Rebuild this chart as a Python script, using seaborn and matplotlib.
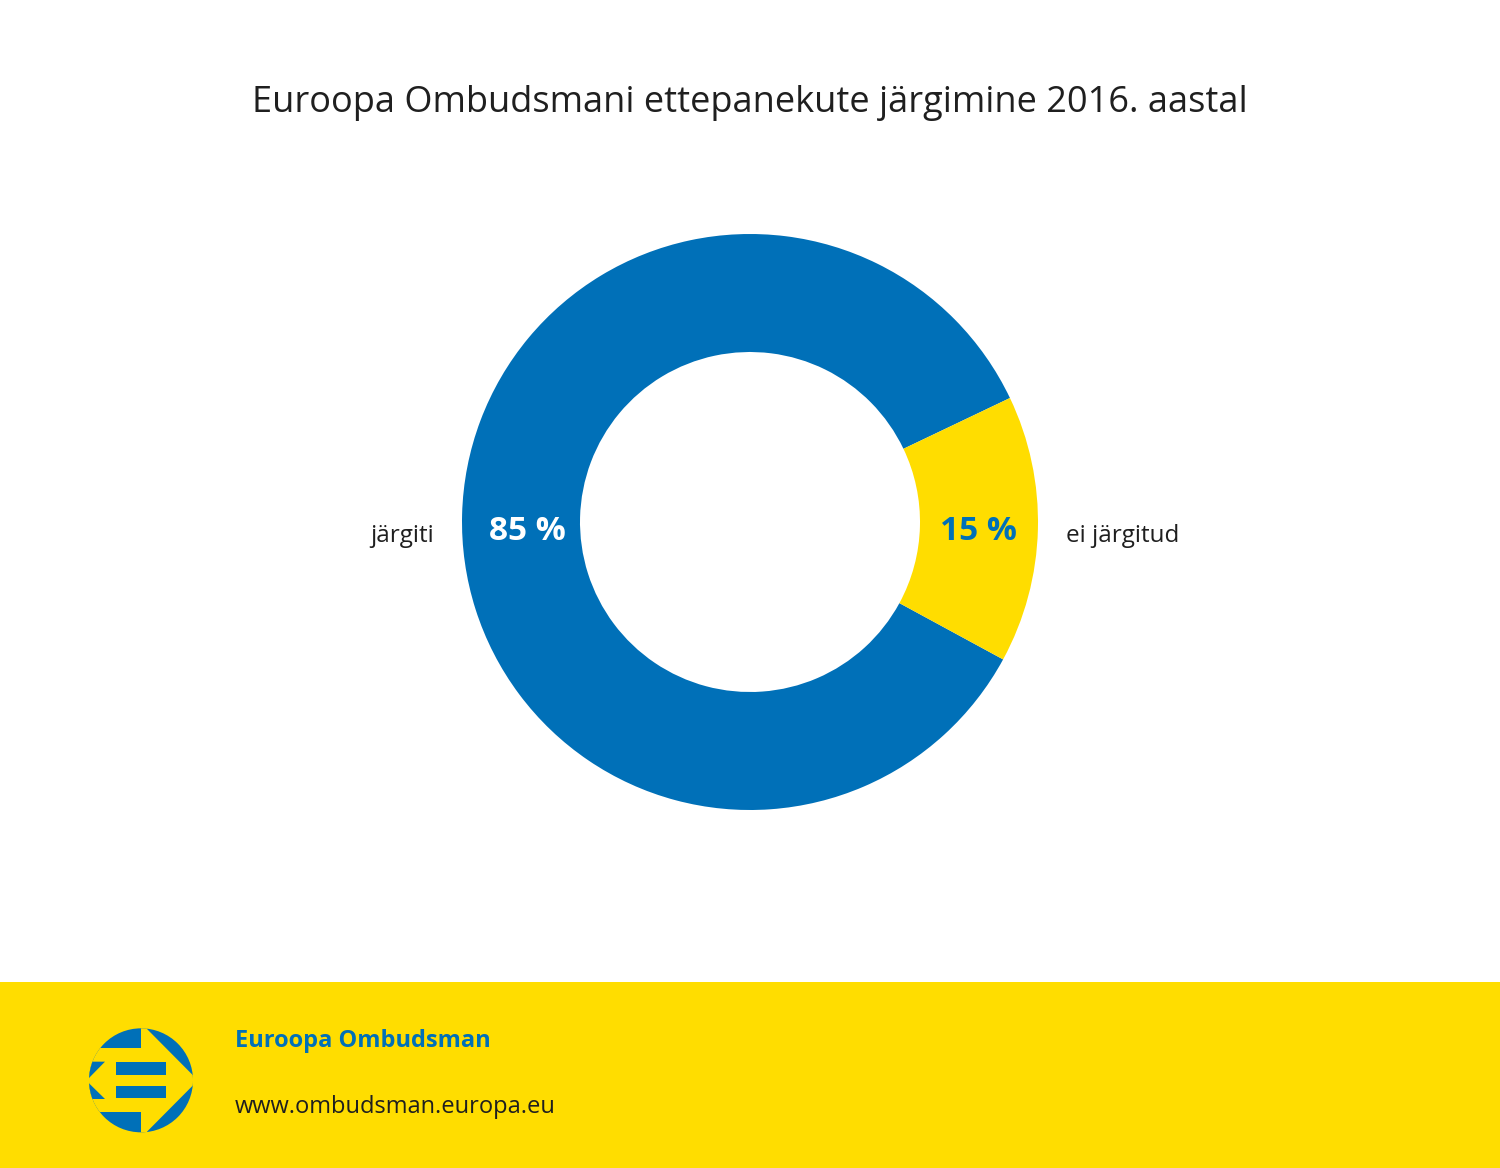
import numpy as np
import matplotlib
matplotlib.use("Agg")
import matplotlib.pyplot as plt
import seaborn as sns
from matplotlib.patches import Circle, Polygon, Rectangle

# data
categories = ["järgiti", "ei järgitud"]
shares = [85, 15]
pct_labels = ["85 %", "15 %"]
title = "Euroopa Ombudsmani ettepanekute järgimine 2016. aastal"
brand = "Euroopa Ombudsman"
url = "www.ombudsman.europa.eu"

BLUE = "#0070B8"
YELLOW = "#FFDD00"
DARK = "#1F1F1F"

sns.set_theme(style="white")
plt.rcParams["font.family"] = ["Open Sans", "DejaVu Sans"]

W, H = 1500, 1168
fig = plt.figure(figsize=(W / 100, H / 100), dpi=100)
fig.patch.set_facecolor("white")

# donut
cx, cy, r_out, r_in = 750, 522, 288, 170
box = 320
ax = fig.add_axes([(cx - box) / W, (H - cy - box) / H, 2 * box / W, 2 * box / H])
ax.set_aspect("equal")
ax.axis("off")

start = 25.5
wedges, _ = ax.pie(shares, colors=[BLUE, YELLOW], startangle=start, counterclock=True,
                   radius=r_out, wedgeprops=dict(width=r_out - r_in, linewidth=0))
ax.set_xlim(-box, box)
ax.set_ylim(-box, box)

mid_r = (r_out + r_in) / 2
pct_colors = ["white", BLUE]
for w, lab, cat, col in zip(wedges, pct_labels, categories, pct_colors):
    ang = np.deg2rad((w.theta1 + w.theta2) / 2)
    x = mid_r * np.cos(ang)
    ax.text(x + (6 if x < 0 else 0), -10, lab, ha="center", va="center",
            fontsize=24, fontweight="bold", color=col)
    lx = (r_out + 28) * np.cos(ang)
    ax.text(lx, -14, cat, ha="right" if lx < 0 else "left", va="center",
            fontsize=17.5, color=DARK)

fig.text(0.5, 1 - 103 / H, title, ha="center", va="center", fontsize=26,
         fontweight="medium", color=DARK)

# footer band with logo
fax = fig.add_axes([0, 0, 1, 1], zorder=-1)
fax.set_xlim(0, W)
fax.set_ylim(H, 0)
fax.axis("off")
fax.add_patch(Rectangle((0, 982), W, H - 982, color=YELLOW, lw=0))

fig.text(235 / W, 1 - 1041 / H, brand, ha="left", va="center", fontsize=17,
         fontweight="bold", color=BLUE)
fig.text(235 / W, 1 - 1107 / H, url, ha="left", va="center", fontsize=17, color=DARK)

# logo (zoom coords -> pixels)
def P(zx, zy):
    return (80 + zx / 3, 1015 + zy / 3)

lax = fig.add_axes([0, 0, 1, 1], zorder=1)
lax.set_xlim(0, W)
lax.set_ylim(H, 0)
lax.axis("off")
lcx, lcy = P(183, 196)
circ = Circle((lcx, lcy), 52, color=BLUE, lw=0)
lax.add_patch(circ)
clip = Circle((lcx, lcy), 52, transform=lax.transData)
yellow_polys = [
    [P(183, 0), P(200, 0), P(200, 400), P(183, 400)],
    [P(0, 100), P(183, 100), P(183, 292), P(0, 292)],
    [P(200, 41), P(338, 180), P(360, 180), P(360, 212), P(338, 212), P(200, 351)],
]
for pts in yellow_polys:
    p = Polygon(pts, closed=True, color=YELLOW, lw=0)
    lax.add_patch(p)
    p.set_clip_path(clip)
blue_polys = [
    [P(0, 140), P(75, 140), P(20, 196)],
    [P(20, 198), P(75, 252), P(0, 252)],
    [P(108, 142), P(258, 142), P(258, 180), P(108, 180)],
    [P(108, 212), P(258, 212), P(258, 250), P(108, 250)],
]
for pts in blue_polys:
    p = Polygon(pts, closed=True, color=BLUE, lw=0)
    lax.add_patch(p)
    p.set_clip_path(clip)

fig.savefig("out.png", dpi=100)
